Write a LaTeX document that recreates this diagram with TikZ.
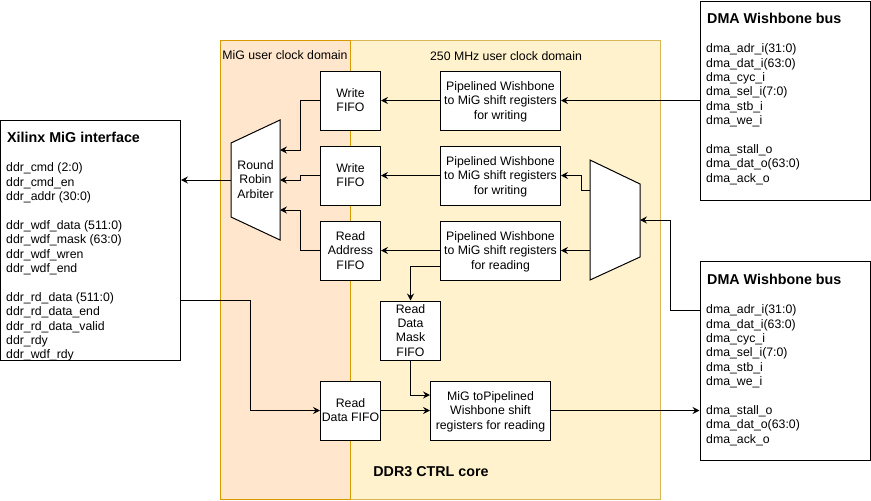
\documentclass[tikz,border=0pt]{standalone}
\usepackage{fontspec}
\setmainfont{Liberation Sans}
\usetikzlibrary{arrows.meta,calc}
\definecolor{orfill}{HTML}{FFE6CC}
\definecolor{orline}{HTML}{D79B00}
\definecolor{yefill}{HTML}{FFF2CC}
\definecolor{yeline}{HTML}{D6B656}
\newcommand{\mytop}{\rule{0pt}{11.4pt}}
\newcommand{\mybot}{\rule[-3pt]{0pt}{3pt}}
\tikzset{
  box/.style={draw, fill=white, line width=1pt, align=center, inner sep=0.5pt,
    font=\fontsize{12.3}{14.4}\selectfont},
  conn/.style={line width=1pt, -{Stealth[length=7pt,width=7pt,inset=2.5pt]}},
  lbl/.style={font=\fontsize{12.3}{14.4}\selectfont, inner sep=0pt},
  ttl/.style={font=\bfseries\fontsize{14.3}{16.8}\selectfont, inner sep=0pt},
  trapfill/.style={fill=white, draw=black, line width=1pt},
}
\begin{document}
\begin{tikzpicture}[x=1pt,y=-1pt]
\useasboundingbox (0,0) rectangle (871,501);
% clock domain regions
\filldraw[fill=yefill, draw=yeline, line width=1pt] (350,40) rectangle (660,499.5);
\filldraw[fill=orfill, draw=orline, line width=1pt] (220,40) rectangle (350,499.5);
\node[lbl] (lmig) at (285,55) {MiG user clock domain};
\node[lbl] (l250) at (506,56) {250 MHz user clock domain};
\node[ttl] (core) at (431,472) {DDR3 CTRL core};

% Xilinx MiG interface
\node[box, minimum width=180pt, minimum height=240pt] (xil) at (90.5,240) {};
\node[ttl, anchor=base west] (xilt) at (7,142) {Xilinx MiG interface};
\node[lbl, anchor=north west, align=left] (xill) at (6,161.5) {\strut ddr\_cmd (2:0)\\ddr\_cmd\_en\\ddr\_addr (30:0)\\[14.4pt]ddr\_wdf\_data (511:0)\\ddr\_wdf\_mask (63:0)\\ddr\_wdf\_wren\\ddr\_wdf\_end\\[14.4pt]ddr\_rd\_data (511:0)\\ddr\_rd\_data\_end\\ddr\_rd\_data\_valid\\ddr\_rdy\\ddr\_wdf\_rdy};

% DMA Wishbone buses
\node[box, minimum width=170pt, minimum height=199pt] (dma1) at (785,100.5) {};
\node[ttl, anchor=base west] (dma1t) at (707,23) {DMA Wishbone bus};
\node[lbl, anchor=north west, align=left] (dma1l) at (706,42.5) {\strut dma\_adr\_i(31:0)\\dma\_dat\_i(63:0)\\dma\_cyc\_i\\dma\_sel\_i(7:0)\\dma\_stb\_i\\dma\_we\_i\\[14.4pt]dma\_stall\_o\\dma\_dat\_o(63:0)\\dma\_ack\_o};
\node[box, minimum width=170pt, minimum height=199pt] (dma2) at (785,360.5) {};
\node[ttl, anchor=base west] (dma2t) at (707,284) {DMA Wishbone bus};
\node[lbl, anchor=north west, align=left] (dma2l) at (706,303.5) {\strut dma\_adr\_i(31:0)\\dma\_dat\_i(63:0)\\dma\_cyc\_i\\dma\_sel\_i(7:0)\\dma\_stb\_i\\dma\_we\_i\\[14.4pt]dma\_stall\_o\\dma\_dat\_o(63:0)\\dma\_ack\_o};

% FIFOs
\node[box, minimum width=60pt, minimum height=59pt] (wf1) at (350.5,100.5) {\mytop Write\\FIFO\mybot};
\node[box, minimum width=60pt, minimum height=59pt] (wf2) at (350.5,175.5) {\mytop Write\\FIFO\mybot};
\node[box, minimum width=60pt, minimum height=59pt] (raf) at (350.5,250.5) {\mytop Read\\Address\\FIFO\mybot};
\node[box, minimum width=60pt, minimum height=59pt] (rdf) at (350.5,410.5) {\mytop Read\\Data FIFO\mybot};
\node[box, minimum width=60pt, minimum height=59pt] (mask) at (410.5,330.5) {\mytop Read\\Data\\Mask\\FIFO\mybot};

% shift register blocks
\node[box, minimum width=120pt, minimum height=59pt] (p1) at (500.5,100.5) {\mytop Pipelined Wishbone\\to MiG shift registers\\for writing\mybot};
\node[box, minimum width=120pt, minimum height=59pt] (p2) at (500.5,175.5) {\mytop Pipelined Wishbone\\to MiG shift registers\\for writing\mybot};
\node[box, minimum width=120pt, minimum height=59pt] (p3) at (500.5,250.5) {\mytop Pipelined Wishbone\\to MiG shift registers\\for reading\mybot};
\node[box, minimum width=120pt, minimum height=59pt] (migp) at (490.5,410.5) {\mytop MiG toPipelined\\Wishbone shift\\registers for reading\mybot};

% Round robin arbiter
\filldraw[trapfill] (231,143) -- (280,120) -- (280,240) -- (231,217) -- cycle;
\node[lbl, align=center] (arb) at (255.5,179.5) {Round\\Robin\\Arbiter};
\coordinate (arbL) at (231,180);
\coordinate (arbA) at (280,150);
\coordinate (arbB) at (280,180);
\coordinate (arbC) at (280,210);

% Multiplexer
\filldraw[trapfill] (590,160) -- (640,184) -- (640,257) -- (590,280) -- cycle;
\coordinate (muxA) at (590,190);
\coordinate (muxB) at (590,250.5);
\coordinate (muxR) at (640,220);

\coordinate (d2in) at (700,310);
\coordinate (y300) at (0,300);

% connectors
\draw[conn] (arbL) -- (arbL -| xil.east);
\draw[conn] (wf1.west) -- ++(-20,0) |- (arbA);
\draw[conn] (wf2.west) -- ++(-20,0) |- (arbB);
\draw[conn] (raf.west) -- ++(-20,0) |- (arbC);
\draw[conn] (p1.west) -- (wf1.east);
\draw[conn] (p2.west) -- (wf2.east);
\draw[conn] (p3.west) -- (raf.east);
\draw[conn] (p1.east -| dma1.west) -- (p1.east);
\draw[conn] (muxA) -- ++(-9,0) |- (p2.east);
\draw[conn] (muxB) -- (p3.east);
\draw[conn] (d2in) -- ++(-30,0) |- (muxR);
\draw[conn] ($(p3.west)+(0,15.5)$) -| (mask.north);
\draw[conn] (mask.south) |- ($(migp.west)+(0,-15.5)$);
\draw[conn] (rdf.east) -- (migp.west);
\draw[conn] (xil.east |- y300) -- (250,300) |- (rdf.west);
\draw[conn] (migp.east) -- (migp.east -| dma2.west);
\end{tikzpicture}
\end{document}
